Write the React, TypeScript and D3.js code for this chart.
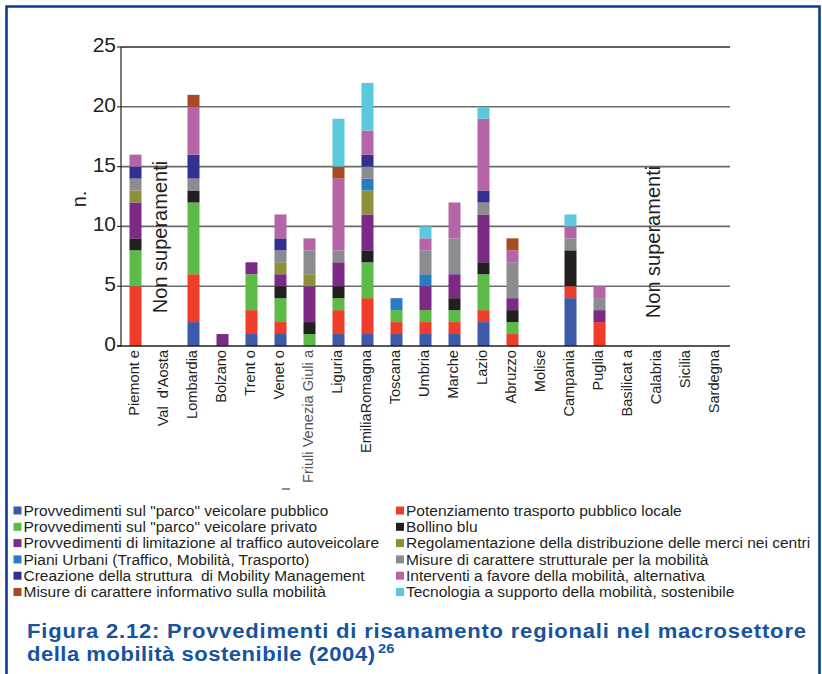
import React from "react";
import * as d3 from "d3";

const categories = [
  "Piemont e", "Val  d'Aosta", "Lombardia", "Bolzano", "Trent o", "Venet o",
  "Friuli Venezia Giuli a", "Liguria", "EmiliaRomagna", "Toscana", "Umbria",
  "Marche", "Lazio", "Abruzzo", "Molise", "Campania", "Puglia",
  "Basilicat a", "Calabria", "Sicilia", "Sardegna",
];

const seriesNames = [
  "Provvedimenti sul \"parco\" veicolare pubblico",
  "Potenziamento trasporto pubblico locale",
  "Provvedimenti sul \"parco\" veicolare privato",
  "Bollino blu",
  "Provvedimenti di limitazione al traffico autoveicolare",
  "Regolamentazione della distribuzione delle merci nei centri",
  "Piani Urbani (Traffico, Mobilità, Trasporto)",
  "Misure di carattere strutturale per la mobilità",
  "Creazione della struttura  di Mobility Management",
  "Interventi a favore della mobilità, alternativa",
  "Misure di carattere informativo sulla mobilità",
  "Tecnologia a supporto della mobilità, sostenibile",
];

const seriesColors = [
  "#3c5aa8", "#ee3e2b", "#5bbb46", "#231f20", "#7b2a86", "#8c9038",
  "#2b7bc0", "#8c8c90", "#323191", "#b565a7", "#a94a22", "#5bc8dc",
];

const pubblico =        [0,0,2,0,1,1,0,1,1,1,1,1,2,0,0,4,0,0,0,0,0];
const potenziamento =   [5,0,4,0,2,1,0,2,3,1,1,1,1,1,0,1,2,0,0,0,0];
const privato =         [3,0,6,0,3,2,1,1,3,1,1,1,3,1,0,0,0,0,0,0,0];
const bollino =         [1,0,1,0,0,1,1,1,1,0,0,1,1,1,0,3,0,0,0,0,0];
const limitazione =     [3,0,0,1,1,1,3,2,3,0,2,2,4,1,0,0,1,0,0,0,0];
const regolamentazione =[1,0,0,0,0,1,1,0,2,0,0,0,0,0,0,0,0,0,0,0,0];
const pianiUrbani =     [0,0,0,0,0,0,0,0,1,1,1,0,0,0,0,0,0,0,0,0,0];
const strutturali =     [1,0,1,0,0,1,2,1,1,0,2,3,1,3,0,1,1,0,0,0,0];
const mobilityMgmt =    [1,0,2,0,0,1,0,0,1,0,0,0,1,0,0,0,0,0,0,0,0];
const interventi =      [1,0,4,0,0,2,1,6,2,0,1,3,6,1,0,1,1,0,0,0,0];
const informativo =     [0,0,1,0,0,0,0,1,0,0,0,0,0,1,0,0,0,0,0,0,0];
const tecnologia =      [0,0,0,0,0,0,0,4,4,0,1,0,1,0,0,1,0,0,0,0,0];

const seriesValues = [
  pubblico, potenziamento, privato, bollino, limitazione, regolamentazione,
  pianiUrbani, strutturali, mobilityMgmt, interventi, informativo, tecnologia,
];

const yTicks = [0, 5, 10, 15, 20, 25];
const noDataLabel = "Non superamenti";
const noDataCats = ["Val  d'Aosta", "Calabria"];
const yTitle = "n.";
const captionLine1 = "Figura 2.12: Provvedimenti di risanamento regionali nel macrosettore";
const captionLine2 = "della mobilità sostenibile (2004)";
const captionSup = "26";

const W = 822, H = 674;
const plotLeft = 121, plotRight = 730, plotTop = 47, plotBottom = 346;
const FONT = "'Liberation Sans', Arial, Helvetica, sans-serif";

export default function App() {
  const x = d3.scaleBand<string>()
    .domain(categories)
    .range([plotLeft, plotRight])
    .paddingInner(0.586)
    .paddingOuter(0.293);
  const y = d3.scaleLinear().domain([0, 25]).range([plotBottom, plotTop]);

  const table = categories.map((c, i) => {
    const row: Record<string, any> = { cat: c };
    seriesNames.forEach((s, k) => { row[s] = seriesValues[k][i]; });
    return row;
  });
  const stacked = d3.stack<any>().keys(seriesNames)(table);

  const legendLeft = [0, 2, 4, 6, 8, 10];
  const legendRight = [1, 3, 5, 7, 9, 11];
  const legendY0 = 510.5, legendStep = 16.3;
  const capScale = 1.13;

  return (
    <svg width={W} height={H} style={{ position: "absolute", left: 0, top: 0 }}
      fontFamily={FONT}>
      <rect x={0} y={0} width={W} height={H} fill="#fff" />
      {/* frame */}
      <path d={`M6.5,${H + 5} L6.5,6.5 L819.5,6.5 L819.5,${H + 5}`} fill="none"
        stroke="#0c3e8b" strokeWidth={2.6} />

      {/* gridlines */}
      {yTicks.map((t) => (
        <g key={t}>
          {t > 0 && (
            <line x1={plotLeft} x2={plotRight} y1={y(t)} y2={y(t)}
              stroke={t === 25 ? "#2a2a2a" : "#6a6a6a"} strokeWidth={1.6} />
          )}
          <line x1={plotLeft - 4} x2={plotLeft} y1={y(t)} y2={y(t)}
            stroke="#333" strokeWidth={1.2} />
          <text x={116} y={y(t) + 5} textAnchor="end" fontSize={21} fill="#231f20">
            {t}
          </text>
        </g>
      ))}

      {/* bars */}
      {stacked.map((layer, k) => (
        <g key={layer.key} fill={seriesColors[k]}>
          {layer.map((d, i) => {
            const h = y(d[0]) - y(d[1]);
            if (h <= 0) return null;
            return (
              <rect key={i} x={x(categories[i])} y={y(d[1])}
                width={x.bandwidth()} height={h} />
            );
          })}
        </g>
      ))}

      {/* axes */}
      <line x1={plotLeft} x2={plotLeft} y1={plotTop} y2={plotBottom} stroke="#231f20" strokeWidth={1.2} />
      <line x1={plotLeft - 4} x2={plotRight} y1={plotBottom} y2={plotBottom} stroke="#231f20" strokeWidth={1.4} />

      {/* y title */}
      <text transform={`translate(86,199) rotate(-90)`} textAnchor="middle" fontSize={20} fill="#231f20">
        {yTitle}
      </text>

      {/* x labels */}
      {categories.map((c) => {
        const cx = (x(c) as number) + x.bandwidth() / 2 + 3;
        return (
          <text key={c} transform={`translate(${cx},350) rotate(-90)`} textAnchor="end"
            fontSize={14.6} fill={c.startsWith("Friuli") ? "#555" : "#231f20"}
            style={{ whiteSpace: "pre" }}>
            {c}
          </text>
        );
      })}
      <line x1={282} x2={290} y1={489} y2={489} stroke="#666" strokeWidth={1.5} />

      {/* no data labels */}
      {noDataCats.map((c, j) => {
        const cx = (x(c) as number) + x.bandwidth() / 2 + 2;
        return (
          <text key={c} transform={`translate(${cx},${j === 0 ? 237 : 242}) rotate(-90)`}
            textAnchor="middle" fontSize={20} fill="#231f20">
            {noDataLabel}
          </text>
        );
      })}

      {/* legend */}
      {[legendLeft, legendRight].map((col, ci) => (
        <g key={ci}>
          {col.map((k, r) => {
            const ly = legendY0 + r * legendStep;
            const lx = ci === 0 ? 13.5 : 396;
            return (
              <g key={k}>
                <rect x={lx} y={ly - 4} width={8} height={8} fill={seriesColors[k]} />
                <text x={lx + 10} y={ly + 5.3} fontSize={15.5} fill="#231f20"
                  style={{ whiteSpace: "pre" }}>
                  {seriesNames[k]}
                </text>
              </g>
            );
          })}
        </g>
      ))}

      {/* caption */}
      <g fill="#17539f" fontWeight="bold" fontSize={19.5}
        transform={`translate(27,0) scale(${capScale},1)`}>
        <text x={0} y={638} textLength={779 / capScale} lengthAdjust="spacing">{captionLine1}</text>
        <text x={0} y={661} textLength={348 / capScale} lengthAdjust="spacing">{captionLine2}</text>
        <text x={351 / capScale} y={653} fontSize={13}>{captionSup}</text>
      </g>
    </svg>
  );
}
